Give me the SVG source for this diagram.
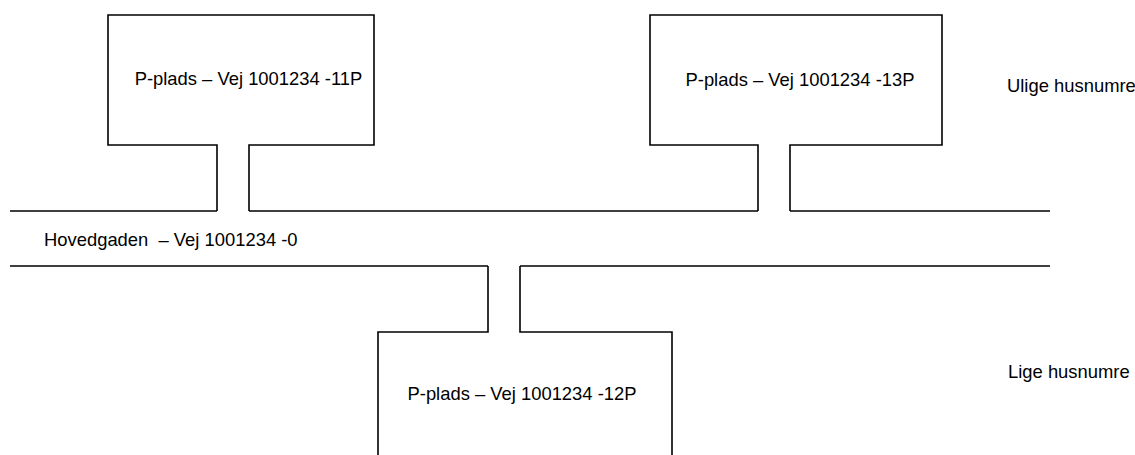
<svg xmlns="http://www.w3.org/2000/svg" width="1135" height="455" viewBox="0 0 1135 455">
<style>
.ln{fill:none;stroke:#000;stroke-width:1.6;stroke-linejoin:miter}
.t{font-family:"Liberation Sans",Arial,sans-serif;font-size:18.4px;fill:#000}
.m{text-anchor:middle}
</style>
<rect width="1135" height="455" fill="#fff"/>
<g id="road">
<path class="ln" d="M10,211 H217 M249,211 H758 M790,211 H1050 M10,266 H488 M520,266 H1050"/>
<text class="t" x="44" y="246">Hovedgaden&#160; – Vej 1001234 -0</text>
</g>
<g id="p11">
<path class="ln" d="M217,211 V145 H108 V15 H374 V145 H249 V211"/>
<text class="t m" x="248.5" y="85">P-plads – Vej 1001234 -11P</text>
</g>
<g id="p13">
<path class="ln" d="M758,211 V145 H650 V15 H942 V145 H790 V211"/>
<text class="t m" x="800" y="86">P-plads – Vej 1001234 -13P</text>
</g>
<g id="p12">
<path class="ln" d="M488,266 V332 H378 V460 M672,460 V332 H520 V266"/>
<text class="t m" x="522" y="400">P-plads – Vej 1001234 -12P</text>
</g>
<g id="ulige"><text class="t" x="1007" y="92">Ulige husnumre</text></g>
<g id="lige"><text class="t" x="1008" y="378">Lige husnumre</text></g>
</svg>
